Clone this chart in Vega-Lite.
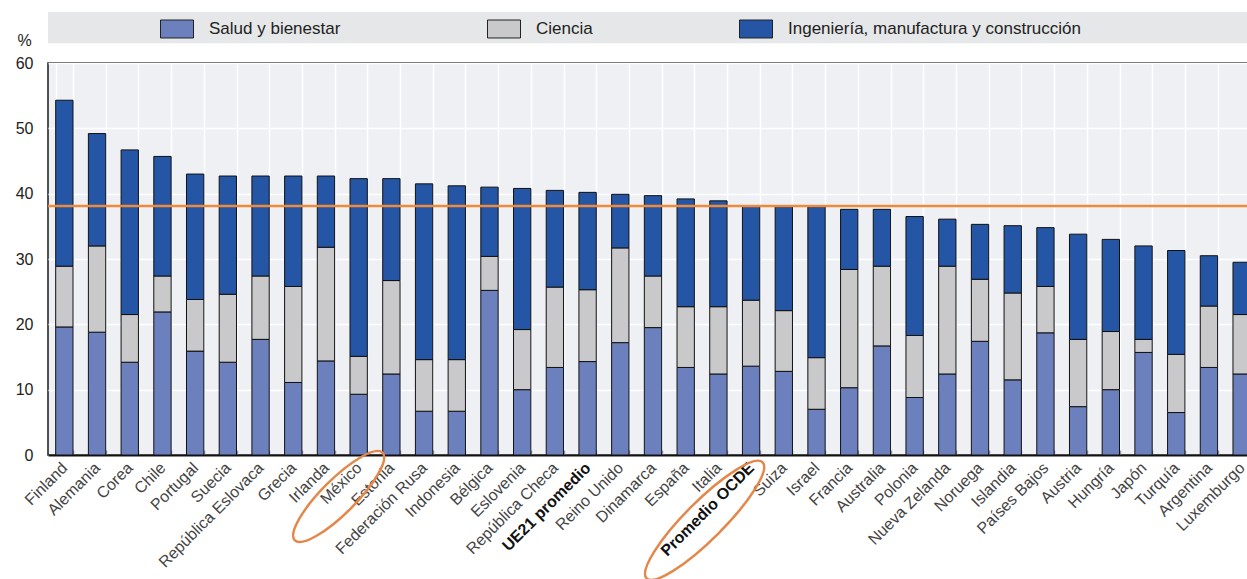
{
  "$schema": "https://vega.github.io/schema/vega-lite/v6.json",
  "width": 1210,
  "height": 392,
  "autosize": {"type": "none"},
  "padding": {"left": 48, "top": 63, "right": 0, "bottom": 124},
  "background": "white",
  "config": {
    "font": "Liberation Sans",
    "view": {"fill": "#EEF0F4", "stroke": "#1a1a1a", "strokeWidth": 1.5}
  },
  "datasets": {
    "barras": [
      {"p":"Finland","c":"Salud y bienestar","v":19.6,"k":1},{"p":"Finland","c":"Ciencia","v":9.3,"k":2},{"p":"Finland","c":"Ingeniería, manufactura y construcción","v":25.4,"k":3},
      {"p":"Alemania","c":"Salud y bienestar","v":18.8,"k":1},{"p":"Alemania","c":"Ciencia","v":13.2,"k":2},{"p":"Alemania","c":"Ingeniería, manufactura y construcción","v":17.2,"k":3},
      {"p":"Corea","c":"Salud y bienestar","v":14.2,"k":1},{"p":"Corea","c":"Ciencia","v":7.3,"k":2},{"p":"Corea","c":"Ingeniería, manufactura y construcción","v":25.2,"k":3},
      {"p":"Chile","c":"Salud y bienestar","v":21.9,"k":1},{"p":"Chile","c":"Ciencia","v":5.5,"k":2},{"p":"Chile","c":"Ingeniería, manufactura y construcción","v":18.3,"k":3},
      {"p":"Portugal","c":"Salud y bienestar","v":15.9,"k":1},{"p":"Portugal","c":"Ciencia","v":7.9,"k":2},{"p":"Portugal","c":"Ingeniería, manufactura y construcción","v":19.2,"k":3},
      {"p":"Suecia","c":"Salud y bienestar","v":14.2,"k":1},{"p":"Suecia","c":"Ciencia","v":10.4,"k":2},{"p":"Suecia","c":"Ingeniería, manufactura y construcción","v":18.1,"k":3},
      {"p":"República Eslovaca","c":"Salud y bienestar","v":17.7,"k":1},{"p":"República Eslovaca","c":"Ciencia","v":9.7,"k":2},{"p":"República Eslovaca","c":"Ingeniería, manufactura y construcción","v":15.3,"k":3},
      {"p":"Grecia","c":"Salud y bienestar","v":11.1,"k":1},{"p":"Grecia","c":"Ciencia","v":14.7,"k":2},{"p":"Grecia","c":"Ingeniería, manufactura y construcción","v":16.9,"k":3},
      {"p":"Irlanda","c":"Salud y bienestar","v":14.4,"k":1},{"p":"Irlanda","c":"Ciencia","v":17.4,"k":2},{"p":"Irlanda","c":"Ingeniería, manufactura y construcción","v":10.9,"k":3},
      {"p":"México","c":"Salud y bienestar","v":9.3,"k":1},{"p":"México","c":"Ciencia","v":5.8,"k":2},{"p":"México","c":"Ingeniería, manufactura y construcción","v":27.2,"k":3},
      {"p":"Estonia","c":"Salud y bienestar","v":12.4,"k":1},{"p":"Estonia","c":"Ciencia","v":14.3,"k":2},{"p":"Estonia","c":"Ingeniería, manufactura y construcción","v":15.6,"k":3},
      {"p":"Federación Rusa","c":"Salud y bienestar","v":6.7,"k":1},{"p":"Federación Rusa","c":"Ciencia","v":7.9,"k":2},{"p":"Federación Rusa","c":"Ingeniería, manufactura y construcción","v":26.9,"k":3},
      {"p":"Indonesia","c":"Salud y bienestar","v":6.7,"k":1},{"p":"Indonesia","c":"Ciencia","v":7.9,"k":2},{"p":"Indonesia","c":"Ingeniería, manufactura y construcción","v":26.6,"k":3},
      {"p":"Bélgica","c":"Salud y bienestar","v":25.2,"k":1},{"p":"Bélgica","c":"Ciencia","v":5.2,"k":2},{"p":"Bélgica","c":"Ingeniería, manufactura y construcción","v":10.6,"k":3},
      {"p":"Eslovenia","c":"Salud y bienestar","v":10.0,"k":1},{"p":"Eslovenia","c":"Ciencia","v":9.2,"k":2},{"p":"Eslovenia","c":"Ingeniería, manufactura y construcción","v":21.6,"k":3},
      {"p":"República Checa","c":"Salud y bienestar","v":13.4,"k":1},{"p":"República Checa","c":"Ciencia","v":12.3,"k":2},{"p":"República Checa","c":"Ingeniería, manufactura y construcción","v":14.8,"k":3},
      {"p":"UE21 promedio","c":"Salud y bienestar","v":14.3,"k":1},{"p":"UE21 promedio","c":"Ciencia","v":11.0,"k":2},{"p":"UE21 promedio","c":"Ingeniería, manufactura y construcción","v":14.9,"k":3},
      {"p":"Reino Unido","c":"Salud y bienestar","v":17.2,"k":1},{"p":"Reino Unido","c":"Ciencia","v":14.5,"k":2},{"p":"Reino Unido","c":"Ingeniería, manufactura y construcción","v":8.2,"k":3},
      {"p":"Dinamarca","c":"Salud y bienestar","v":19.5,"k":1},{"p":"Dinamarca","c":"Ciencia","v":7.9,"k":2},{"p":"Dinamarca","c":"Ingeniería, manufactura y construcción","v":12.3,"k":3},
      {"p":"España","c":"Salud y bienestar","v":13.4,"k":1},{"p":"España","c":"Ciencia","v":9.3,"k":2},{"p":"España","c":"Ingeniería, manufactura y construcción","v":16.5,"k":3},
      {"p":"Italia","c":"Salud y bienestar","v":12.4,"k":1},{"p":"Italia","c":"Ciencia","v":10.3,"k":2},{"p":"Italia","c":"Ingeniería, manufactura y construcción","v":16.2,"k":3},
      {"p":"Promedio OCDE","c":"Salud y bienestar","v":13.6,"k":1},{"p":"Promedio OCDE","c":"Ciencia","v":10.1,"k":2},{"p":"Promedio OCDE","c":"Ingeniería, manufactura y construcción","v":14.4,"k":3},
      {"p":"Suiza","c":"Salud y bienestar","v":12.8,"k":1},{"p":"Suiza","c":"Ciencia","v":9.3,"k":2},{"p":"Suiza","c":"Ingeniería, manufactura y construcción","v":15.9,"k":3},
      {"p":"Israel","c":"Salud y bienestar","v":7.0,"k":1},{"p":"Israel","c":"Ciencia","v":7.9,"k":2},{"p":"Israel","c":"Ingeniería, manufactura y construcción","v":23.1,"k":3},
      {"p":"Francia","c":"Salud y bienestar","v":10.3,"k":1},{"p":"Francia","c":"Ciencia","v":18.1,"k":2},{"p":"Francia","c":"Ingeniería, manufactura y construcción","v":9.2,"k":3},
      {"p":"Australia","c":"Salud y bienestar","v":16.7,"k":1},{"p":"Australia","c":"Ciencia","v":12.2,"k":2},{"p":"Australia","c":"Ingeniería, manufactura y construcción","v":8.7,"k":3},
      {"p":"Polonia","c":"Salud y bienestar","v":8.8,"k":1},{"p":"Polonia","c":"Ciencia","v":9.5,"k":2},{"p":"Polonia","c":"Ingeniería, manufactura y construcción","v":18.2,"k":3},
      {"p":"Nueva Zelanda","c":"Salud y bienestar","v":12.4,"k":1},{"p":"Nueva Zelanda","c":"Ciencia","v":16.5,"k":2},{"p":"Nueva Zelanda","c":"Ingeniería, manufactura y construcción","v":7.2,"k":3},
      {"p":"Noruega","c":"Salud y bienestar","v":17.4,"k":1},{"p":"Noruega","c":"Ciencia","v":9.5,"k":2},{"p":"Noruega","c":"Ingeniería, manufactura y construcción","v":8.4,"k":3},
      {"p":"Islandia","c":"Salud y bienestar","v":11.5,"k":1},{"p":"Islandia","c":"Ciencia","v":13.3,"k":2},{"p":"Islandia","c":"Ingeniería, manufactura y construcción","v":10.3,"k":3},
      {"p":"Países Bajos","c":"Salud y bienestar","v":18.7,"k":1},{"p":"Países Bajos","c":"Ciencia","v":7.1,"k":2},{"p":"Países Bajos","c":"Ingeniería, manufactura y construcción","v":9.0,"k":3},
      {"p":"Austria","c":"Salud y bienestar","v":7.4,"k":1},{"p":"Austria","c":"Ciencia","v":10.3,"k":2},{"p":"Austria","c":"Ingeniería, manufactura y construcción","v":16.1,"k":3},
      {"p":"Hungría","c":"Salud y bienestar","v":10.0,"k":1},{"p":"Hungría","c":"Ciencia","v":8.9,"k":2},{"p":"Hungría","c":"Ingeniería, manufactura y construcción","v":14.1,"k":3},
      {"p":"Japón","c":"Salud y bienestar","v":15.7,"k":1},{"p":"Japón","c":"Ciencia","v":2.0,"k":2},{"p":"Japón","c":"Ingeniería, manufactura y construcción","v":14.3,"k":3},
      {"p":"Turquía","c":"Salud y bienestar","v":6.5,"k":1},{"p":"Turquía","c":"Ciencia","v":8.9,"k":2},{"p":"Turquía","c":"Ingeniería, manufactura y construcción","v":15.9,"k":3},
      {"p":"Argentina","c":"Salud y bienestar","v":13.4,"k":1},{"p":"Argentina","c":"Ciencia","v":9.4,"k":2},{"p":"Argentina","c":"Ingeniería, manufactura y construcción","v":7.7,"k":3},
      {"p":"Luxemburgo","c":"Salud y bienestar","v":12.4,"k":1},{"p":"Luxemburgo","c":"Ciencia","v":9.1,"k":2},{"p":"Luxemburgo","c":"Ingeniería, manufactura y construcción","v":8.0,"k":3}
    ],
    "resaltados": [
      {"p": "México", "y": -6.35},
      {"p": "Promedio OCDE", "y": -10.0}
    ],
    "banda": [{"parte": "leyenda", "y0": 63.03, "y1": 67.8}],
    "promedio": [{"valor": 38.1}]
  },
  "layer": [
    {
      "data": {"name": "banda"},
      "mark": {"type": "rect", "color": "#E6E7E9"},
      "encoding": {
        "y": {"field": "y1", "type": "quantitative", "title": "%"},
        "y2": {"field": "y0"},
        "x": {"value": 0},
        "x2": {"value": "width"}
      }
    },
    {
      "data": {"name": "barras"},
      "mark": {"type": "bar", "stroke": "#111111", "strokeWidth": 1},
      "encoding": {
        "x": {
          "field": "p", "type": "nominal", "sort": null,
          "scale": {"paddingInner": 0.47, "paddingOuter": 0.235},
          "axis": {
            "title": null,
            "labelAngle": -45,
            "labelAlign": "right",
            "labelBaseline": "middle",
            "labelFontSize": 16,
            "labelColor": {"condition": {"test": "datum.value === 'UE21 promedio' || datum.value === 'Promedio OCDE'", "value": "#111111"}, "value": "#444444"},
            "labelFontWeight": {"condition": {"test": "datum.value === 'UE21 promedio' || datum.value === 'Promedio OCDE'", "value": "bold"}, "value": "normal"},
            "labelPadding": 15,
            "labelOffset": 0,
            "labelOverlap": false,
            "labelLimit": 300,
            "tickBand": "extent",
            "ticks": true,
            "tickSize": -5,
            "tickColor": "#999999",
            "tickWidth": 1.5,
            "grid": true,
            "gridColor": "#FFFFFF",
            "gridWidth": 1.5,
            "domainColor": "#111111",
            "domainWidth": 2
          }
        },
        "y": {
          "field": "v", "type": "quantitative", "stack": "zero", "title": "%",
          "scale": {"domain": [0, 60], "nice": false},
          "axis": {
            "values": [0, 10, 20, 30, 40, 50, 60],
            "domain": false,
            "ticks": false,
            "labelPadding": 15,
            "labelFontSize": 16,
            "labelColor": "#222222",
            "grid": true,
            "gridColor": "#FFFFFF",
            "gridWidth": 1.5,
            "titleAngle": 0,
            "titleX": -24,
            "titleY": -23,
            "titleAlign": "center",
            "titleBaseline": "middle",
            "titleFontSize": 16,
            "titleFontWeight": "normal",
            "titleColor": "#222222"
          }
        },
        "color": {
          "field": "c", "type": "nominal",
          "scale": {
            "domain": ["Salud y bienestar", "Ciencia", "Ingeniería, manufactura y construcción"],
            "range": ["#6C80BE", "#C9C9CB", "#2556A6"]
          },
          "legend": {
            "title": null,
            "orient": "none",
            "legendX": 112,
            "legendY": -51,
            "direction": "horizontal",
            "columns": 3,
            "columnPadding": 144,
            "symbolType": "M -1 -0.545 L 1 -0.545 L 1 0.545 L -1 0.545 Z",
            "symbolSize": 1089,
            "symbolStrokeColor": "#222222",
            "symbolStrokeWidth": 1,
            "symbolOpacity": 1,
            "labelFontSize": 17,
            "labelColor": "#222222",
            "labelOffset": 15,
            "labelLimit": 500
          }
        },
        "order": {"field": "k", "type": "quantitative"}
      }
    },
    {
      "data": {"name": "promedio"},
      "mark": {"type": "rule", "color": "#EE8A3A", "strokeWidth": 2.5},
      "encoding": {
        "y": {"field": "valor", "type": "quantitative", "title": "%"}
      }
    },
    {
      "data": {"name": "resaltados"},
      "mark": {"type": "point", "filled": false, "color": "#E4874A", "strokeWidth": 2.5, "size": 10000, "opacity": 1},
      "encoding": {
        "x": {"field": "p", "type": "nominal", "sort": null},
        "y": {"field": "y", "type": "quantitative", "title": "%"},
        "shape": {
          "field": "p", "type": "nominal", "legend": null,
          "scale": {
            "domain": ["México", "Promedio OCDE"],
            "range": [
              "M 0.477 -0.877 A 1.24 0.34 -45 1 0 -1.277 0.877 A 1.24 0.34 -45 1 0 0.477 -0.877 Z",
              "M 0.23 -1.16 A 1.64 0.38 -45 1 0 -2.09 1.16 A 1.64 0.38 -45 1 0 0.23 -1.16 Z"
            ]
          }
        }
      }
    }
  ]
}
